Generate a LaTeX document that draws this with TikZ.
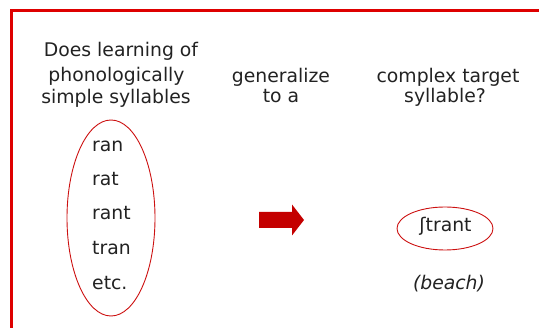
\documentclass[tikz,border=0pt]{standalone}
\usepackage{fontspec}
\setmainfont{DejaVu Sans}
\definecolor{framered}{RGB}{222,0,0}
\definecolor{ringred}{RGB}{204,16,16}
\definecolor{arrowred}{RGB}{196,0,0}
\definecolor{ink}{RGB}{34,34,34}
\begin{document}
\begin{tikzpicture}[x=1pt,y=-1pt,
  txt/.style={font=\fontsize{18.8}{22}\selectfont, text=ink, inner sep=0pt, anchor=base},
  word/.style={txt, anchor=base west},
  ring/.style={draw=ringred, line width=0.9pt},
  frameline/.style={draw=framered, line width=2.6pt}]
\useasboundingbox (0,0) rectangle (539,328);
% outer frame, open to the right and bottom
\draw[frameline] (11.3,340) -- (11.3,10.5) -- (550,10.5);

% question, left column
\node[txt] (q1) at (121,57) {Does learning of};
\node[txt] (q2) at (116.5,82) {phonologically};
\node[txt] (q3) at (116,104) {simple syllables};
% middle column
\node[txt] (g1) at (281,83) {generalize};
\node[txt] (g2) at (281,103) {to a};
% right column
\node[txt] (c1) at (448,83) {complex target};
\node[txt] (c2) at (445,103) {syllable?};

% simple syllables
\draw[ring] (111,218) ellipse [x radius=44, y radius=98];
\node[word] (w1) at (92,152) {ran};
\node[word] (w2) at (92,186) {rat};
\node[word] (w3) at (92,220) {rant};
\node[word] (w4) at (92,255) {tran};
\node[word] (w5) at (92,290) {etc.};

% block arrow
\fill[arrowred] (259,212) -- (292,212) -- (292,204.5) -- (304,220)
  -- (292,235.5) -- (292,228) -- (259,228) -- cycle;

% complex target
\draw[ring] (445,228.5) ellipse [x radius=48, y radius=21.5];
\node[txt] (t) at (445.5,232) {ʃtrant};
\node[txt, font=\fontsize{18.8}{22}\selectfont\itshape] (b) at (449,290) {(beach)};
\end{tikzpicture}
\end{document}
